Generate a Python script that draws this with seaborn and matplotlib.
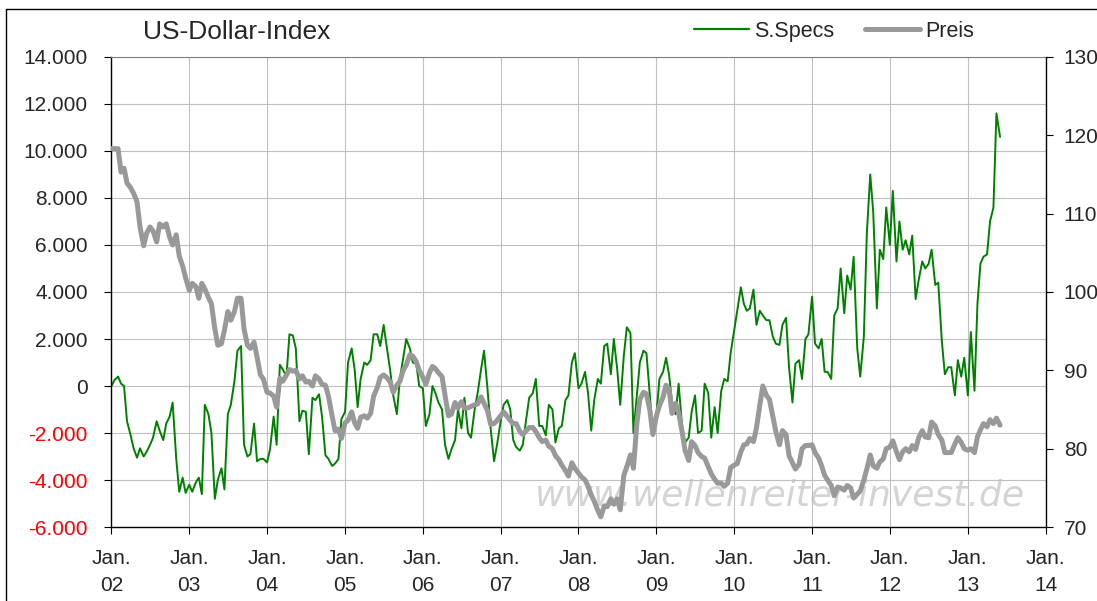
import pandas as pd
import matplotlib
matplotlib.use("Agg")
import matplotlib.pyplot as plt
import matplotlib.ticker as mticker
from matplotlib.lines import Line2D
import seaborn as sns

# Data (semi-monthly readings, Jan 2002 - Jun 2013)
dates = pd.date_range("2002-01-01", periods=275, freq="SMS")

specs = [
    0, 250, 400, 100, 0, -1500, -2100, -2650, -3050, -2650, -3000, -2800, -2500, -2200, -1500, -1900, -2300, -1600, -1300, -700, -3100, -4500, -3900, -4550,
    -4200, -4500, -4100, -3900, -4600, -800, -1200, -2000, -4800, -4000, -3500, -4400, -1200, -800, 200, 1500, 1700, -2500, -3000, -2900, -1600, -3200, -3100, -3100,
    -3250, -2700, -1300, -2500, 900, 700, 400, 2200, 2150, 1600, -1500, -1050, -1100, -2900, -500, -600, -350, -1300, -2950, -3100, -3400, -3300, -3100, -1400,
    -1100, 1000, 1600, 700, -900, 300, 1000, 900, 1100, 2200, 2200, 1700, 2600, 1700, 650, -400, -1200, 300, 1200, 2000, 1600, 1000, 950, 0,
    -100, -1700, -1200, 0, -300, -700, -1000, -2500, -3100, -2700, -2300, -1000, -1800, -500, -2000, -2200, -1000, -300, 700, 1500, -200, -1800, -3200, -2500,
    -1500, -800, -600, -1000, -2300, -2600, -2750, -2500, -1400, -500, -300, 300, -1700, -1700, -2100, -800, -1000, -2400, -1800, -1700, -600, -400, 1000, 1400,
    -100, 100, 600, -300, -1900, -600, 300, 100, 1700, 1800, 500, 2000, 700, -800, 1300, 2500, 2250, -2000, -400, 1000, 1500, 1400, -400, -2000,
    -1200, 300, 600, 1200, 500, -700, -1200, 100, -1700, -2400, -2200, -1100, -400, -2000, -1900, 100, -300, -2200, -900, -2000, -200, 300, 200, 1400,
    2400, 3200, 4200, 3500, 3200, 3300, 4100, 2600, 3200, 3000, 2800, 2800, 2100, 1800, 1750, 2600, 2900, 800, -700, 950, 1100, 300, 2000, 2200,
    3800, 1800, 1600, 2000, 600, 600, 300, 3000, 3300, 5000, 3100, 4700, 4100, 5500, 1600, 400, 2100, 6500, 9000, 7400, 3300, 5800, 5400, 7600,
    6000, 8300, 5300, 7000, 5800, 6200, 5600, 6400, 3700, 4500, 5300, 5000, 5200, 5800, 4300, 4400, 1900, 500, 800, 800, -400, 1100, 400, 1200,
    -400, 2300, -200, 3500, 5200, 5500, 5600, 7000, 7600, 11600, 10600,
]

preis = [
    118.3, 118.3, 118.3, 115.3, 115.8, 113.9, 113.3, 112.6, 111.5, 108.3, 105.9, 107.5, 108.3, 107.8, 106.4, 108.7, 108.3, 108.7, 107.0, 106.0, 107.3, 104.6, 103.3, 101.8,
    100.2, 101.1, 100.7, 99.2, 101.1, 100.4, 99.3, 98.5, 95.3, 93.2, 93.4, 95.1, 97.5, 96.4, 97.5, 99.2, 99.2, 95.3, 93.2, 92.8, 93.6, 91.7, 89.4, 88.9,
    87.2, 87.1, 86.7, 85.3, 89.0, 88.6, 89.4, 90.1, 89.9, 90.0, 88.9, 89.3, 88.5, 88.6, 88.0, 89.3, 88.9, 88.2, 88.1, 86.7, 84.2, 82.3, 82.5, 81.3,
    83.3, 83.6, 84.7, 83.3, 82.6, 84.0, 84.2, 83.9, 84.5, 86.7, 87.8, 89.1, 89.4, 89.1, 88.5, 87.2, 88.1, 88.6, 90.0, 90.7, 92.0, 91.8, 91.1, 90.0,
    89.1, 88.2, 89.7, 90.5, 90.2, 89.7, 89.2, 86.8, 84.2, 84.4, 85.9, 85.2, 86.0, 85.2, 85.2, 85.4, 85.6, 85.7, 86.6, 85.8, 84.8, 83.1, 83.2, 83.6,
    84.2, 84.7, 84.1, 83.6, 83.2, 83.2, 82.2, 81.8, 82.3, 82.7, 82.7, 82.2, 81.4, 80.9, 81.1, 80.3, 80.0, 79.1, 78.6, 77.9, 77.2, 76.5, 78.2, 77.5,
    76.9, 76.4, 76.0, 75.2, 74.1, 73.3, 72.1, 71.3, 72.7, 72.6, 73.6, 72.9, 73.6, 72.2, 76.6, 77.7, 79.2, 77.5, 83.2, 86.3, 87.2, 87.0, 84.9, 81.8,
    84.2, 85.5, 86.6, 88.1, 87.6, 84.5, 85.8, 84.6, 82.2, 79.8, 78.5, 80.9, 80.4, 79.5, 79.0, 78.8, 77.7, 76.8, 76.1, 75.6, 75.6, 75.2, 75.6, 77.6,
    77.9, 78.1, 79.6, 80.5, 80.6, 81.3, 80.9, 82.6, 85.6, 88.0, 86.8, 86.3, 84.1, 82.2, 80.5, 82.3, 81.8, 79.1, 78.2, 77.4, 78.0, 80.0, 80.4, 80.4,
    80.5, 79.5, 78.8, 77.8, 76.6, 76.0, 75.3, 74.0, 75.1, 75.0, 74.7, 75.3, 75.0, 73.7, 74.2, 74.6, 76.0, 77.4, 79.2, 77.8, 77.5, 78.3, 78.7, 80.0,
    80.2, 81.0, 79.6, 78.6, 79.6, 80.0, 79.6, 80.4, 79.9, 81.4, 82.3, 81.5, 81.4, 83.4, 82.9, 81.8, 81.1, 79.5, 79.5, 79.5, 80.6, 81.4, 80.8, 80.0,
    79.8, 80.0, 79.5, 81.5, 82.4, 83.2, 82.8, 83.7, 83.2, 83.9, 83.0,
]

year_ticks = pd.date_range("2002-01-01", "2014-01-01", freq="YS")
year_labels = [f"Jan.\n{d:%y}" for d in year_ticks]

df = pd.DataFrame({"date": dates, "specs": specs, "preis": preis})

# Plot
sns.set_style("white")
plt.rcParams["font.family"] = ["Liberation Sans", "DejaVu Sans"]

fig = plt.figure(figsize=(10.97, 6.01), dpi=100)
ax = fig.add_axes([0.1016, 0.1231, 0.8516, 0.7821])
ax2 = ax.twinx()

green = "#008000"
grey = "#999999"

sns.lineplot(data=df, x="date", y="specs", ax=ax, color=green, linewidth=1.4, legend=False)
sns.lineplot(data=df, x="date", y="preis", ax=ax2, color=grey, linewidth=3.6, legend=False)

# Watermark
ax.text(0.7155, 0.045, "www.wellenreiter-invest.de", transform=ax.transAxes,
        ha="center", va="baseline", fontsize=26, style="italic",
        family="DejaVu Sans", color="#d4d4d4", zorder=0)

# Axes
ax.set_xlim(year_ticks[0], year_ticks[-1])
ax.set_xticks(year_ticks)
ax.set_xticklabels(year_labels, linespacing=1.55)
ax.set_ylim(-6000, 14000)
left_ticks = list(range(-6000, 14001, 2000))
ax.set_yticks(left_ticks)
ax.yaxis.set_major_formatter(mticker.FuncFormatter(lambda v, p: f"{v:,.0f}".replace(",", ".")))
for tick, val in zip(ax.yaxis.get_major_ticks(), left_ticks):
    if val < 0:
        tick.label1.set_color("red")

ax2.set_ylim(70, 130)
ax2.set_yticks(range(70, 131, 10))

ax.set_xlabel("")
ax.set_ylabel("")
ax2.set_ylabel("")

ax.grid(True, color="#c0c0c0", linewidth=0.8)
ax.set_axisbelow(True)
ax2.grid(False)

ax.tick_params(axis="y", left=True, direction="out", length=5, width=0.8, pad=12, labelsize=15, color="black")
ax.tick_params(axis="x", bottom=True, direction="out", length=5, width=0.8, pad=11, labelsize=15, color="black")
ax2.tick_params(axis="y", right=True, direction="out", length=5, width=0.8, pad=8, labelsize=15, color="black")

for s in ["left", "bottom"]:
    ax.spines[s].set_color("black")
    ax.spines[s].set_linewidth(1)
ax.spines["top"].set_color("#808080")
ax.spines["right"].set_visible(False)
for s in ["left", "bottom", "top"]:
    ax2.spines[s].set_visible(False)
ax2.spines["right"].set_color("black")
ax2.spines["right"].set_linewidth(1)

# Decorations
fig.text(143 / 1097, 1 - 32 / 601, "US-Dollar-Index", fontsize=19, ha="left", va="center")

handles = [Line2D([], [], color=green, linewidth=1.6), Line2D([], [], color=grey, linewidth=3.6)]
ax2.legend(handles, ["S.Specs", "Preis"], loc="center", bbox_to_anchor=(834 / 1097, 1 - 31.5 / 601),
           bbox_transform=fig.transFigure, ncol=2, frameon=False, fontsize=15.5,
           handlelength=2.55, handletextpad=0.25, columnspacing=1.4)

# chart border (left and top)
fig.add_artist(Line2D([6 / 1097, 6 / 1097], [0, 1 - 9 / 601], transform=fig.transFigure, color="black", linewidth=1))
fig.add_artist(Line2D([6 / 1097, 1], [1 - 9 / 601, 1 - 9 / 601], transform=fig.transFigure, color="black", linewidth=1))

fig.savefig("out.png", dpi=100)
